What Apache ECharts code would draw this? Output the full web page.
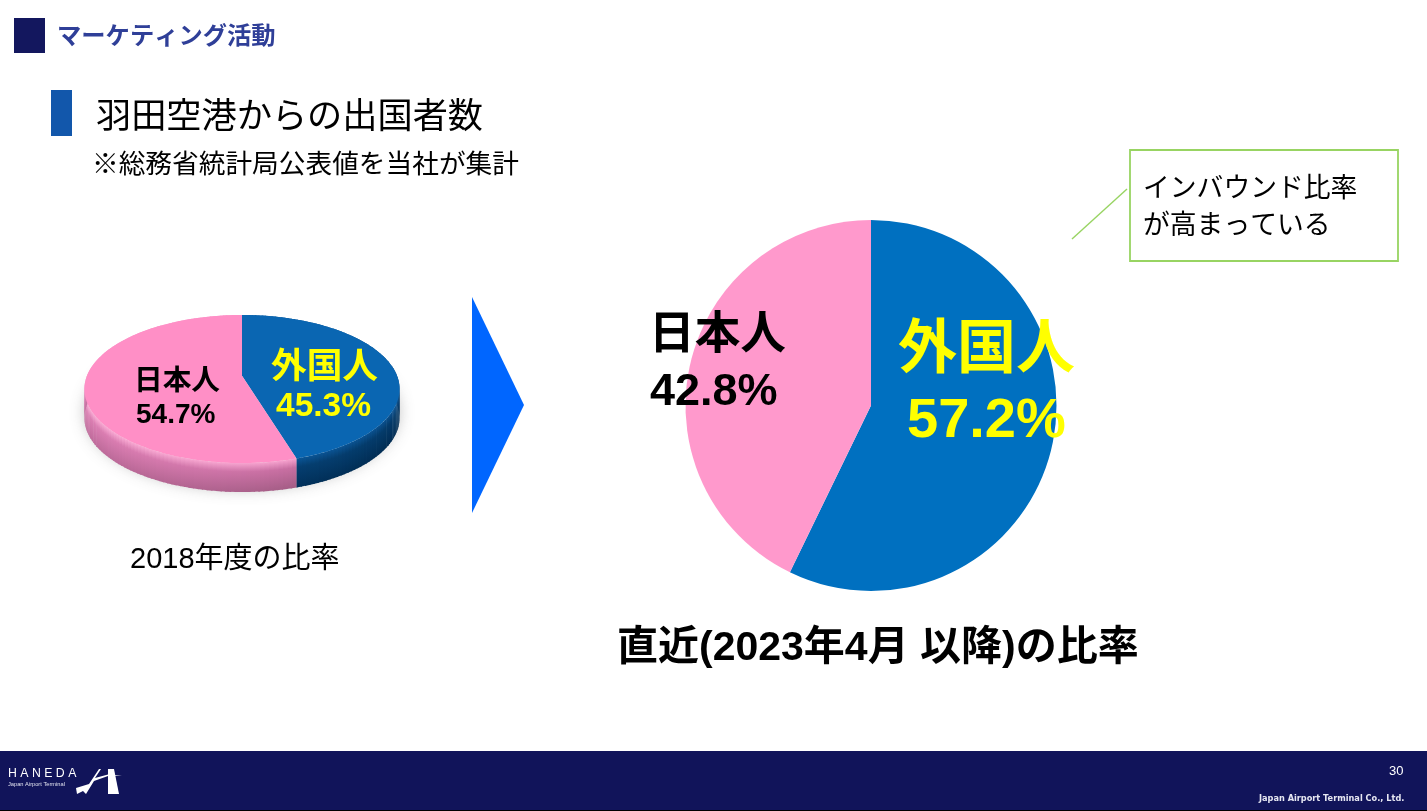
<!DOCTYPE html>
<html lang="ja">
<head>
<meta charset="utf-8">
<title>羽田空港からの出国者数</title>
<script src="https://cdn.jsdelivr.net/npm/echarts@6/dist/echarts.min.js"></script>
<style>
html, body { margin: 0; padding: 0; background: #fff; }
#main { width: 1427px; height: 811px; }
</style>
</head>
<body>
<div id="main"></div>
<script>
// データ
var sliceNames = ['外国人', '日本人'];
var share2018 = [45.3, 54.7];
var shareRecent = [57.2, 42.8];
var sliceColors = ['#0070c0', '#ff99cc'];
var labelColors = ['#ffff00', '#000000'];

var FONT = '"Liberation Sans", "Noto Sans CJK JP", sans-serif';

var myChart = echarts.init(document.getElementById('main'));

// 2018年度の傾いた円: 単位円を射影して楕円にする
var tilt = { cx: 242, cy: 375.7, k: 155, a: 4, c: -0.18, depth: 29 };

function arcPoint(frac) {
    var th = frac * Math.PI * 2;
    var u = Math.sin(th), t = -Math.cos(th);
    var d = 1 + tilt.c * t;
    return [tilt.cx + tilt.k * u / d, (tilt.a * t + tilt.cy) / d];
}

var tiltSlices = [];
var tiltTotal = share2018[0] + share2018[1];
var acc = 0;
for (var i = 0; i < share2018.length; i++) {
    tiltSlices.push([acc / tiltTotal, (acc + share2018[i]) / tiltTotal, i]);
    acc += share2018[i];
}

function rimColors(idx, x) {
    // 右に行くほど暗く
    var f = Math.max(0, Math.min(1, (x - 84) / 316));
    if (idx === 0) {
        return [
            echarts.color.lerp(f, ['#0b62ad', '#0a4f8c']),
            echarts.color.lerp(f, ['#07487f', '#043a69']),
            echarts.color.lerp(f, ['#003a6c', '#012c52'])
        ];
    }
    return [
        echarts.color.lerp(f, ['#fbaed6', '#f39ac9']),
        echarts.color.lerp(f, ['#dc7fb3', '#bd6699']),
        echarts.color.lerp(f, ['#c06c9c', '#96557a'])
    ];
}

function renderTilted(params, api) {
    var from = api.value(0), to = api.value(1), idx = api.value(2);
    var children = [];
    var step = 0.004;
    // 側面
    for (var f = from; f < to; f += step) {
        var f2 = Math.min(to, f + step * 1.3);
        var p1 = arcPoint(f), p2 = arcPoint(f2);
        var cols = rimColors(idx, p1[0]);
        var midY = (p1[1] + p2[1]) / 2;
        children.push({
            type: 'polygon',
            z2: 1,
            shape: { points: [p1, p2, [p2[0], p2[1] + tilt.depth], [p1[0], p1[1] + tilt.depth]] },
            style: {
                fill: new echarts.graphic.LinearGradient(0, midY, 0, midY + tilt.depth, [
                    { offset: 0, color: cols[0] },
                    { offset: 0.3, color: cols[1] },
                    { offset: 1, color: cols[2] }
                ], true)
            }
        });
    }
    // 上面
    var pts = [[tilt.cx, tilt.cy]];
    for (var g = from; g < to; g += step) {
        pts.push(arcPoint(g));
    }
    pts.push(arcPoint(to));
    children.push({
        type: 'polygon',
        z2: 5,
        shape: { points: pts },
        style: { fill: idx === 0 ? '#0a66b2' : '#ff8fc6' }
    });
    return { type: 'group', children: children };
}

function txt(text, x, y, size, opt) {
    opt = opt || {};
    return {
        type: 'text',
        z: 10,
        x: x,
        y: y,
        silent: true,
        style: {
            text: text,
            fill: opt.color || '#000',
            font: (opt.bold ? 'bold ' : '') + size + 'px ' + (opt.family || FONT),
            textAlign: opt.align || 'left',
            textVerticalAlign: 'middle'
        }
    };
}

var option = {
    animation: false,
    backgroundColor: '#ffffff',
    graphic: [
        // 見出し
        { type: 'rect', z: 5, shape: { x: 14, y: 18, width: 31, height: 35 }, style: { fill: '#13175e' } },
        txt('マーケティング活動', 57, 37, 24.3, { bold: true, color: '#2f3f98' }),
        { type: 'rect', z: 5, shape: { x: 51, y: 90, width: 21, height: 46 }, style: { fill: '#1257ab' } },
        txt('羽田空港からの出国者数', 96, 118, 35.2),
        txt('※総務省統計局公表値を当社が集計', 92, 166, 26.7),

        // 影
        {
            type: 'ellipse', z: 0,
            shape: { cx: 242, cy: 412, rx: 156, ry: 76 },
            style: { fill: '#e8e8e8', shadowBlur: 16, shadowColor: 'rgba(90,90,90,0.45)' }
        },

        // 矢印
        { type: 'polygon', z: 5, shape: { points: [[472, 297], [524, 405], [472, 513]] }, style: { fill: '#0066ff' } },

        // 小さい円のラベル
        txt(sliceNames[1], 134, 382, 28.7, { bold: true }),
        txt(share2018[1] + '%', 136, 415, 28, { bold: true }),
        txt(sliceNames[0], 271, 368, 35.7, { bold: true, color: labelColors[0] }),
        txt(share2018[0] + '%', 276, 407, 33.5, { bold: true, color: labelColors[0] }),
        txt('2018年度の比率', 130, 560, 29),

        // 大きい円のラベル
        txt(sliceNames[1], 649, 336, 45.7, { bold: true, color: labelColors[1] }),
        txt(shareRecent[1] + '%', 650, 393, 45, { bold: true, color: labelColors[1] }),
        txt(sliceNames[0], 898, 352, 59, { bold: true, color: labelColors[0] }),
        txt(shareRecent[0] + '%', 907, 422, 56, { bold: true, color: labelColors[0] }),
        txt('直近(2023年4月 以降)の比率', 617, 649, 41, { bold: true }),

        // 吹き出し
        {
            type: 'rect', z: 5,
            shape: { x: 1130, y: 150, width: 268, height: 111 },
            style: { fill: '#fff', stroke: '#98d462', lineWidth: 1.8 }
        },
        {
            type: 'line', z: 5,
            shape: { x1: 1072, y1: 239, x2: 1127, y2: 189 },
            style: { stroke: '#98d462', lineWidth: 1.4 }
        },
        txt('インバウンド比率', 1143, 190, 26.8),
        txt('が高まっている', 1143, 227, 26.8),

        // フッター
        { type: 'rect', z: 5, shape: { x: 0, y: 751, width: 1427, height: 59 }, style: { fill: '#11145a' } },
        { type: 'rect', z: 5, shape: { x: 0, y: 810, width: 1427, height: 1 }, style: { fill: '#000' } },
        txt('H A N E D A', 8, 774, 12.3, { color: '#fff' }),
        txt('Japan Airport Terminal', 8, 784, 5.7, { color: '#dfe0ee' }),
        {
            type: 'polygon', z: 11,
            shape: { points: [[108, 769], [114, 769], [119, 794], [108, 794]] },
            style: { fill: '#fff' }
        },
        {
            type: 'polygon', z: 11,
            shape: { points: [[99, 769], [89, 784], [76, 788], [77, 794], [83, 791], [86, 794], [94, 781], [108, 776], [122, 776], [108, 774.5], [95, 778], [101, 769]] },
            style: { fill: '#fff' }
        },
        txt('30', 1389, 771, 13, { color: '#fff' }),
        txt('Japan Airport Terminal Co., Ltd.', 1259, 799, 8.2, { bold: true, color: '#e6e7f2', family: '"DejaVu Sans", sans-serif' })
    ],
    series: [
        {
            type: 'custom',
            coordinateSystem: 'none',
            silent: true,
            z: 2,
            renderItem: renderTilted,
            data: tiltSlices
        },
        {
            type: 'pie',
            silent: true,
            z: 2,
            center: [871, 405.5],
            radius: [0, 185.5],
            startAngle: 90,
            label: { show: false },
            labelLine: { show: false },
            data: sliceNames.map(function (name, i) {
                return { name: name, value: shareRecent[i], itemStyle: { color: sliceColors[i] } };
            })
        }
    ]
};

myChart.setOption(option);
</script>
</body>
</html>
